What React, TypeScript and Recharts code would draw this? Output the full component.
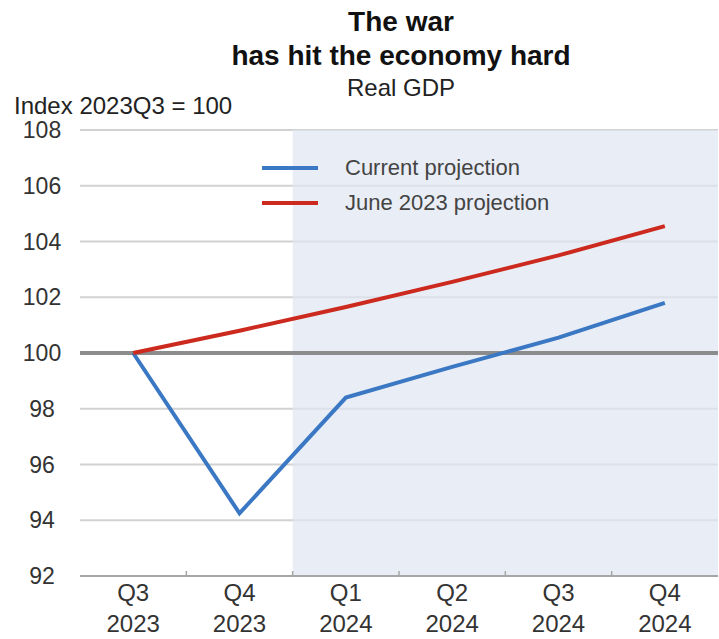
import React from 'react';
import {
  LineChart,
  Line,
  XAxis,
  YAxis,
  CartesianGrid,
  ReferenceArea,
  ReferenceLine,
} from 'recharts';

const quarters = ['Q3 2023', 'Q4 2023', 'Q1 2024', 'Q2 2024', 'Q3 2024', 'Q4 2024'];
const currentProjection = [100, 94.25, 98.4, 99.5, 100.55, 101.8];
const june2023Projection = [100, 100.8, 101.65, 102.55, 103.5, 104.55];
const yTicks = [92, 94, 96, 98, 100, 102, 104, 106, 108];

const series = [
  { key: 'current', name: 'Current projection', color: '#3b78c4' },
  { key: 'june', name: 'June 2023 projection', color: '#cc2a1f' },
];

const data = quarters.map((quarter, i) => ({
  quarter,
  current: currentProjection[i],
  june: june2023Projection[i],
}));

const FONT = '"Liberation Sans", Arial, sans-serif';
const BAND = 638 / quarters.length;

const XTick = (props: any) => {
  const { x, y, payload, index } = props;
  const [q, yr] = String(payload.value).split(' ');
  return (
    <g transform={`translate(${x},${y})`}>
      {index > 0 && (
        <line x1={-BAND / 2} x2={-BAND / 2} y1={-8} y2={-13} stroke="#a6a6a6" strokeWidth={1.5} />
      )}
      <text textAnchor="middle" fill="#333" fontSize={24} fontFamily={FONT}>
        <tspan x={0} dy={17}>{q}</tspan>
        <tspan x={0} dy={31}>{yr}</tspan>
      </text>
    </g>
  );
};

const YTick = (props: any) => {
  const { y, payload } = props;
  return (
    <text x={42} y={y} dy={8} textAnchor="middle" fill="#333" fontSize={23} fontFamily={FONT}>
      {payload.value}
    </text>
  );
};

const textStyle: React.CSSProperties = {
  position: 'absolute',
  fontFamily: FONT,
  whiteSpace: 'nowrap',
  color: '#111',
};

export default function App() {
  return (
    <div style={{ position: 'absolute', left: 0, top: 0, width: 719, height: 639, background: '#fff' }}>
      <div style={{ ...textStyle, left: 0, width: 802, textAlign: 'center', top: 6, fontSize: 28, fontWeight: 'bold', lineHeight: '32px' }}>
        The war
      </div>
      <div style={{ ...textStyle, left: 0, width: 802, textAlign: 'center', top: 40, fontSize: 28, fontWeight: 'bold', lineHeight: '32px' }}>
        has hit the economy hard
      </div>
      <div style={{ ...textStyle, left: 0, width: 802, textAlign: 'center', top: 74, fontSize: 24, lineHeight: '28px', color: '#222' }}>
        Real GDP
      </div>
      <div style={{ ...textStyle, left: 14, top: 92, fontSize: 24, lineHeight: '28px', color: '#222' }}>
        Index 2023Q3 = 100
      </div>
      <LineChart width={719} height={639} data={data} margin={{ top: 130, right: 1, left: 0, bottom: 0 }}>
        <CartesianGrid vertical={false} stroke="#d2d2d2" strokeWidth={2} />
        <ReferenceArea
          x1="Q1 2024"
          x2="Q4 2024"
          y1={92}
          y2={108}
          fill="#e0e5f1"
          fillOpacity={0.7}
          stroke="none"
        />
        <XAxis
          dataKey="quarter"
          scale="band"
          interval={0}
          height={63}
          axisLine={{ stroke: '#a6a6a6', strokeWidth: 2 }}
          tickLine={false}
          tick={<XTick />}
        />
        <YAxis
          domain={[92, 108]}
          ticks={yTicks}
          width={80}
          axisLine={false}
          tickLine={false}
          tick={<YTick />}
        />
        <ReferenceLine y={100} stroke="#8c8c8c" strokeWidth={4} />
        {series.map((s) => (
          <Line
            key={s.key}
            name={s.name}
            dataKey={s.key}
            stroke={s.color}
            strokeWidth={4}
            dot={false}
            type="linear"
            isAnimationActive={false}
          />
        ))}
      </LineChart>
      <div style={{ position: 'absolute', left: 262, top: 150, fontFamily: FONT, fontSize: 22, color: '#444' }}>
        {series.map((s) => (
          <div key={s.key} style={{ display: 'flex', alignItems: 'center', height: 35 }}>
            <span style={{ display: 'inline-block', width: 56, height: 4, background: s.color, marginRight: 27 }} />
            <span>{s.name}</span>
          </div>
        ))}
      </div>
    </div>
  );
}
